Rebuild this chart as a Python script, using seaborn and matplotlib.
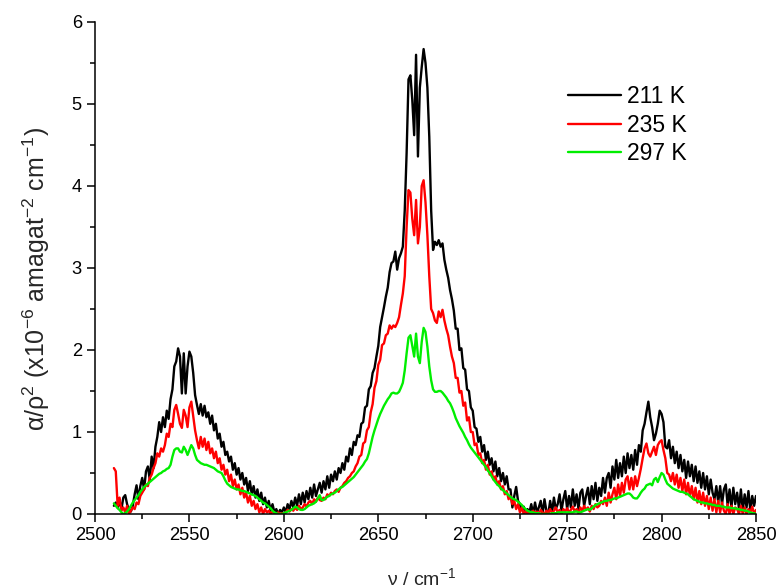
import numpy as np
import pandas as pd
import matplotlib
matplotlib.use("Agg")
import matplotlib.pyplot as plt
import seaborn as sns

# ---------------- data ----------------
nu_start = 2510  # spectra sampled every 1 cm^-1 from 2510 to 2850

k211 = [
    0.10, 0.14, 0.08, 0.16, 0.06, 0.20, 0.23, 0.12, 0.05, 0.03,
    0.10, 0.24, 0.35, 0.18, 0.34, 0.44, 0.30, 0.52, 0.58, 0.42,
    0.70, 0.56, 0.82, 0.94, 1.12, 1.00, 1.18, 1.06, 1.26, 1.16,
    1.40, 1.52, 1.80, 1.86, 2.02, 1.92, 1.47, 1.96, 1.47, 1.80,
    1.98, 1.92, 1.72, 1.45, 1.33, 1.22, 1.34, 1.20, 1.32, 1.18,
    1.24, 1.10, 1.20, 1.02, 1.10, 0.92, 0.98, 0.82, 0.88, 0.72,
    0.76, 0.64, 0.70, 0.54, 0.62, 0.48, 0.56, 0.42, 0.50, 0.36,
    0.44, 0.28, 0.40, 0.24, 0.34, 0.20, 0.30, 0.16, 0.26, 0.12,
    0.20, 0.08, 0.16, 0.04, 0.12, 0.02, 0.06, 0.00, 0.05, 0.02,
    0.08, 0.02, 0.12, 0.06, 0.16, 0.08, 0.20, 0.10, 0.24, 0.12,
    0.26, 0.14, 0.28, 0.18, 0.32, 0.20, 0.36, 0.22, 0.30, 0.38,
    0.26, 0.40, 0.30, 0.46, 0.32, 0.48, 0.40, 0.52, 0.42, 0.56,
    0.50, 0.62, 0.54, 0.70, 0.64, 0.80, 0.72, 0.88, 0.84, 0.96,
    0.94, 1.10, 1.12, 1.30, 1.32, 1.52, 1.56, 1.72, 1.78, 1.92,
    2.05, 2.28, 2.40, 2.52, 2.65, 2.76, 2.95, 3.06, 3.08, 3.20,
    2.98, 3.12, 3.18, 3.26, 3.70, 4.40, 5.30, 5.35, 5.05, 4.62,
    5.60, 4.36, 5.20, 5.45, 5.67, 5.50, 5.20, 4.60, 3.70, 3.22,
    3.32, 3.28, 3.34, 3.26, 3.30, 3.10, 2.98, 2.88, 2.73, 2.62,
    2.48, 2.26, 2.26, 2.00, 2.02, 1.78, 1.76, 1.52, 1.50, 1.30,
    1.26, 1.06, 1.04, 0.88, 0.94, 0.76, 0.84, 0.66, 0.76, 0.60,
    0.68, 0.52, 0.64, 0.46, 0.56, 0.40, 0.50, 0.36, 0.46, 0.30,
    0.30, 0.08, 0.22, 0.33, 0.16, 0.12, 0.05, 0.09, 0.02, 0.06,
    0.02, 0.12, 0.00, 0.14, 0.02, 0.08, 0.16, 0.00, 0.18, 0.04,
    0.00, 0.16, 0.02, 0.20, 0.06, 0.12, 0.24, 0.04, 0.18, 0.28,
    0.06, 0.22, 0.08, 0.30, 0.10, 0.24, 0.06, 0.26, 0.30, 0.10,
    0.22, 0.32, 0.12, 0.34, 0.18, 0.38, 0.16, 0.32, 0.22, 0.44,
    0.26, 0.44, 0.50, 0.32, 0.58, 0.42, 0.66, 0.44, 0.62, 0.46,
    0.70, 0.50, 0.74, 0.56, 0.72, 0.54, 0.78, 0.60, 0.84, 0.76,
    1.02, 1.10, 1.24, 1.37, 1.18, 1.06, 0.90, 0.98, 1.10, 1.26,
    1.22, 1.12, 0.82, 0.80, 0.90, 0.68, 0.82, 0.62, 0.76, 0.56,
    0.72, 0.52, 0.66, 0.44, 0.64, 0.46, 0.60, 0.40, 0.58, 0.38,
    0.52, 0.32, 0.50, 0.30, 0.46, 0.24, 0.42, 0.26, 0.18, 0.34,
    0.14, 0.34, 0.12, 0.30, 0.36, 0.10, 0.30, 0.08, 0.32, 0.12,
    0.26, 0.06, 0.30, 0.04, 0.24, 0.08, 0.28, 0.04, 0.22, 0.10,
    0.22,
]

k235 = [
    0.56, 0.52, 0.10, 0.20, 0.04, 0.08, 0.02, 0.10, 0.00, 0.04,
    0.08, 0.06, 0.14, 0.12, 0.22, 0.26, 0.30, 0.36, 0.34, 0.44,
    0.48, 0.56, 0.62, 0.74, 0.70, 0.80, 0.76, 0.84, 0.98, 0.94,
    1.10, 1.06, 1.27, 1.33, 1.22, 1.10, 1.05, 1.27, 1.20, 1.06,
    1.30, 1.37, 1.20, 1.02, 0.90, 0.80, 0.94, 0.82, 0.92, 0.78,
    0.88, 0.74, 0.80, 0.68, 0.76, 0.62, 0.68, 0.54, 0.60, 0.48,
    0.54, 0.40, 0.48, 0.34, 0.42, 0.30, 0.36, 0.24, 0.32, 0.20,
    0.26, 0.14, 0.22, 0.10, 0.16, 0.06, 0.12, 0.02, 0.08, 0.00,
    0.06, 0.02, 0.04, 0.00, 0.03, 0.01, 0.00, 0.02, 0.00, 0.01,
    0.00, 0.02, 0.05, 0.03, 0.06, 0.04, 0.08, 0.05, 0.10, 0.06,
    0.08, 0.12, 0.09, 0.14, 0.16, 0.12, 0.18, 0.15, 0.20, 0.17,
    0.16, 0.20, 0.18, 0.24, 0.22, 0.26, 0.24, 0.28, 0.30, 0.27,
    0.32, 0.34, 0.38, 0.40, 0.44, 0.46, 0.50, 0.52, 0.58, 0.62,
    0.70, 0.72, 0.86, 0.88, 1.02, 1.06, 1.24, 1.34, 1.54, 1.62,
    1.82, 1.88, 2.06, 2.08, 2.18, 2.20, 2.30, 2.26, 2.30, 2.28,
    2.33, 2.40, 2.55, 2.69, 2.90, 3.50, 3.95, 3.92, 3.60, 3.40,
    3.83, 3.30, 3.50, 4.00, 4.07, 3.80, 3.40, 2.90, 2.50, 2.45,
    2.36, 2.33, 2.47, 2.40, 2.49, 2.36, 2.26, 2.18, 2.04, 1.92,
    1.84, 1.66, 1.66, 1.48, 1.50, 1.32, 1.36, 1.14, 1.18, 1.00,
    1.00, 0.84, 0.86, 0.72, 0.74, 0.62, 0.66, 0.54, 0.60, 0.48,
    0.52, 0.42, 0.46, 0.36, 0.40, 0.30, 0.34, 0.24, 0.28, 0.18,
    0.22, 0.12, 0.16, 0.06, 0.12, 0.02, 0.08, 0.00, 0.04, 0.00,
    0.02, 0.00, 0.04, 0.01, 0.03, 0.00, 0.05, 0.02, 0.00, 0.04,
    0.02, 0.06, 0.01, 0.04, 0.08, 0.02, 0.05, 0.00, 0.06, 0.03,
    0.07, 0.02, 0.05, 0.09, 0.03, 0.06, 0.01, 0.08, 0.04, 0.10,
    0.05, 0.08, 0.03, 0.10, 0.06, 0.12, 0.08, 0.10, 0.16, 0.12,
    0.20, 0.10, 0.26, 0.14, 0.24, 0.32, 0.18, 0.36, 0.22, 0.38,
    0.26, 0.42, 0.46, 0.30, 0.44, 0.30, 0.46, 0.34, 0.44, 0.55,
    0.68, 0.80, 0.86, 0.74, 0.70, 0.76, 0.82, 0.72, 0.84, 0.88,
    0.90, 0.78, 0.68, 0.50, 0.48, 0.40, 0.50, 0.36, 0.48, 0.32,
    0.44, 0.28, 0.42, 0.24, 0.38, 0.22, 0.34, 0.18, 0.32, 0.14,
    0.28, 0.12, 0.26, 0.10, 0.22, 0.06, 0.20, 0.04, 0.18, 0.02,
    0.16, 0.02, 0.14, 0.04, 0.00, 0.12, 0.00, 0.10, 0.00, 0.08,
    0.06, 0.00, 0.10, 0.00, 0.08, 0.00, 0.06, 0.02, 0.09, 0.00,
    0.05,
]

k297 = [
    0.13, 0.10, 0.07, 0.05, 0.02, 0.00, 0.01, 0.03, 0.06, 0.10,
    0.14, 0.17, 0.20, 0.23, 0.27, 0.30, 0.33, 0.35, 0.37, 0.39,
    0.41, 0.43, 0.45, 0.47, 0.49, 0.50, 0.52, 0.53, 0.55, 0.56,
    0.60, 0.70, 0.78, 0.80, 0.80, 0.76, 0.75, 0.82, 0.78, 0.72,
    0.78, 0.84, 0.80, 0.72, 0.66, 0.64, 0.62, 0.61, 0.60, 0.60,
    0.59, 0.58, 0.57, 0.56, 0.54, 0.52, 0.51, 0.50, 0.46, 0.41,
    0.37, 0.35, 0.33, 0.32, 0.31, 0.30, 0.30, 0.29, 0.28, 0.28,
    0.27, 0.26, 0.25, 0.24, 0.23, 0.22, 0.20, 0.18, 0.16, 0.14,
    0.13, 0.11, 0.09, 0.07, 0.04, 0.02, 0.01, 0.00, 0.00, 0.00,
    0.01, 0.02, 0.03, 0.04, 0.05, 0.07, 0.09, 0.08, 0.06, 0.05,
    0.05, 0.06, 0.08, 0.10, 0.11, 0.12, 0.13, 0.15, 0.19, 0.23,
    0.17, 0.17, 0.19, 0.21, 0.22, 0.24, 0.25, 0.26, 0.28, 0.30,
    0.32, 0.33, 0.35, 0.37, 0.39, 0.41, 0.43, 0.45, 0.48, 0.51,
    0.54, 0.57, 0.60, 0.64, 0.67, 0.74, 0.84, 0.94, 1.02, 1.09,
    1.16, 1.22, 1.27, 1.32, 1.36, 1.40, 1.43, 1.47, 1.48, 1.47,
    1.47, 1.49, 1.54, 1.60, 1.75, 1.96, 2.15, 2.18, 2.05, 1.92,
    2.20, 1.92, 1.84, 2.10, 2.27, 2.22, 2.04, 1.80, 1.63, 1.52,
    1.49, 1.49, 1.50, 1.50, 1.48, 1.45, 1.42, 1.38, 1.35, 1.30,
    1.24, 1.17, 1.12, 1.07, 1.03, 0.99, 0.94, 0.90, 0.85, 0.81,
    0.78, 0.75, 0.72, 0.69, 0.66, 0.63, 0.60, 0.57, 0.53, 0.50,
    0.46, 0.42, 0.39, 0.36, 0.34, 0.31, 0.29, 0.27, 0.25, 0.23,
    0.21, 0.19, 0.18, 0.17, 0.15, 0.13, 0.11, 0.08, 0.06, 0.04,
    0.03, 0.02, 0.02, 0.01, 0.01, 0.01, 0.00, 0.00, 0.00, 0.00,
    0.00, 0.00, 0.01, 0.01, 0.01, 0.02, 0.02, 0.02, 0.02, 0.02,
    0.02, 0.02, 0.02, 0.02, 0.03, 0.03, 0.02, 0.02, 0.03, 0.04,
    0.05, 0.06, 0.05, 0.07, 0.09, 0.11, 0.12, 0.13, 0.14, 0.15,
    0.16, 0.16, 0.17, 0.17, 0.18, 0.19, 0.19, 0.20, 0.21, 0.22,
    0.23, 0.24, 0.25, 0.25, 0.23, 0.20, 0.19, 0.19, 0.22, 0.26,
    0.29, 0.31, 0.35, 0.36, 0.37, 0.35, 0.42, 0.44, 0.39, 0.45,
    0.50, 0.48, 0.42, 0.37, 0.35, 0.33, 0.31, 0.30, 0.29, 0.28,
    0.27, 0.27, 0.26, 0.25, 0.24, 0.22, 0.20, 0.18, 0.17, 0.16,
    0.15, 0.14, 0.14, 0.13, 0.13, 0.12, 0.12, 0.11, 0.11, 0.10,
    0.10, 0.10, 0.09, 0.09, 0.08, 0.08, 0.08, 0.07, 0.07, 0.07,
    0.06, 0.06, 0.05, 0.05, 0.04, 0.04, 0.03, 0.02, 0.01, 0.01,
    0.00,
]

series_labels = ["211 K", "235 K", "297 K"]
series_colors = ["#000000", "#ff0000", "#00ee00"]
x_ticks = [2500, 2550, 2600, 2650, 2700, 2750, 2800, 2850]
y_ticks = [0, 1, 2, 3, 4, 5, 6]

# ---------------- build long-form table ----------------
frames = []
for lab, vals in zip(series_labels, [k211, k235, k297]):
    frames.append(pd.DataFrame({
        "nu": np.arange(nu_start, nu_start + len(vals)),
        "alpha": vals,
        "T": lab,
    }))
df = pd.concat(frames, ignore_index=True)

# ---------------- style ----------------
sns.set_theme(style="ticks")
plt.rcParams["font.family"] = ["Liberation Sans", "DejaVu Sans"]
plt.rcParams["mathtext.fontset"] = "custom"
plt.rcParams["mathtext.rm"] = "Liberation Sans"
plt.rcParams["mathtext.it"] = "Liberation Sans:italic"
plt.rcParams["mathtext.default"] = "regular"

W, H = 779, 588
fig = plt.figure(figsize=(W / 100, H / 100), dpi=100)
ax = fig.add_axes([95 / W, 1 - 514 / H, (756 - 95) / W, (514 - 22) / H])

sns.lineplot(data=df, x="nu", y="alpha", hue="T", hue_order=series_labels,
             palette=dict(zip(series_labels, series_colors)),
             sort=False, estimator=None, linewidth=1.7, ax=ax, legend=False)

ax.set_xlim(2500, 2850)
ax.set_ylim(0, 6)
ax.set_xticks(x_ticks)
ax.set_yticks(y_ticks)
ax.set_xticks(np.arange(2525, 2850, 50), minor=True)
ax.set_yticks(np.arange(0.5, 6, 1.0), minor=True)
ax.set_xlabel("")
ax.set_ylabel("")
for s in ["top", "right"]:
    ax.spines[s].set_visible(False)
for s in ["left", "bottom"]:
    ax.spines[s].set_linewidth(1.1)
    ax.spines[s].set_color("black")
ax.tick_params(which="major", direction="out", length=6, width=1.1,
               labelsize=13.2, pad=3.5, color="black", labelcolor="black")
ax.tick_params(which="minor", direction="out", length=3.6, width=1.1,
               color="black")

fig.text(36 / W, 1 - 279 / H,
         "α/ρ$^{2}$ (x10$^{-6}$ amagat$^{-2}$ cm$^{-1}$)",
         rotation=90, ha="center", va="center", fontsize=18)
fig.text(422 / W, 1 - 585 / H, "ν / cm$^{-1}$",
         ha="center", va="baseline", fontsize=14)

handles = ax.lines[:3]
leg = ax.legend(handles, series_labels, loc="upper left",
                bbox_to_anchor=(568 / W, 1 - 85 / H),
                bbox_transform=fig.transFigure, frameon=False,
                borderpad=0, borderaxespad=0, handlelength=2.3,
                handletextpad=0.28, labelspacing=0.25, fontsize=16.5)
for t in leg.get_texts():
    t.set_color("black")

fig.savefig("out.png", dpi=100)
